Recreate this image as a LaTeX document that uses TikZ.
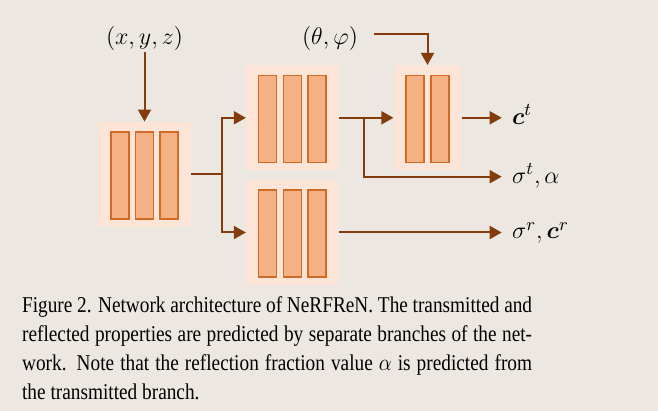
\documentclass[tikz,border=0pt]{standalone}
\usepackage{fontspec}
\usepackage{amsmath}
\usepackage{graphicx}
\newfontfamily\capfont{Liberation Serif}
\usetikzlibrary{calc}
\usetikzlibrary{arrows.meta}

\definecolor{PageBg}{HTML}{ECE8E1}
\definecolor{LayerBg}{HTML}{FCE4D6}
\definecolor{BarFill}{HTML}{F4B183}
\definecolor{BarLine}{HTML}{D26A26}
\definecolor{Brown}{HTML}{843C0C}

\tikzset{
  layerbg/.style={fill=LayerBg, draw=none, minimum height=52.5pt, inner sep=0},
  bar/.style={fill=BarFill, draw=BarLine, line width=0.75pt, minimum width=9pt, minimum height=43.5pt, inner sep=0},
  wire/.style={draw=Brown, line width=1pt},
  link/.style={wire, -{Triangle[length=6pt,width=6.5pt]}},
  lbl/.style={font=\fontsize{13}{15}\selectfont, inner xsep=5pt, inner ysep=2pt, text height=8pt, text depth=1.5pt},
}

% one block of layers: name, x, y, number of bars
\newcommand{\mlp}[4]{%
  \node[layerbg, minimum width={(24.7*#4+18)*0.5pt}] (#1) at (#2,#3) {};
  \foreach \i in {1,...,#4}
    \node[bar] (#1-\i) at ($(#1.center)+({(\i-(#4+1)/2)*24.7},1)$) {};
}

\begin{document}
\begin{tikzpicture}[x=0.5pt,y=-0.5pt]
\fill[PageBg] (0,0) rectangle (658,411);
\useasboundingbox (0,0) rectangle (658,411);

% blocks
\mlp{mlpA}{144.5}{174.5}{3}
\mlp{mlpB}{292.3}{117.8}{3}
\mlp{mlpC}{292.3}{232.5}{3}
\mlp{mlpD}{427.5}{117.8}{2}

% inputs
\node[lbl] (xyz) at (144.5,38.5) {$(x,y,z)$};
\node[lbl] (theta) at (330,38.5) {$(\theta,\varphi)$};

% outputs
\node[lbl, anchor=west] (ct) at (501.7,117.8) {$\boldsymbol{c}^t$};
\node[lbl, anchor=west] (sigt) at (501.7,176.7) {$\sigma^t,\alpha$};
\node[lbl, anchor=west] (sigr) at (501.7,232.5) {$\sigma^r,\boldsymbol{c}^r$};

\coordinate (split) at ($(mlpA.east)+(31.5,0)$);
\coordinate (fork) at ($(mlpB.east)+(25.5,0)$);

\draw[link] (xyz) -- (mlpA);
\draw[link, shorten <=3pt] ([yshift=2pt]theta.east) -| (mlpD.north);

\draw[wire] (mlpA.east) -- (split);
\draw[link] (split) |- (mlpB.west);
\draw[link] (split) |- (mlpC.west);

\draw[link] (mlpB.east) -- (mlpD.west);
\draw[link] (fork) |- (sigt.west);
\draw[link] (mlpD.east) -- (ct.west);
\draw[link] (mlpC.east) -- (sigr.west);

% caption
\node[anchor=base west, inner sep=0] (cap) at (21.7,312) {\scalebox{1}[1.17]{\parbox[t]{255pt}{\capfont\fontsize{9.65}{12.4}\selectfont
Figure 2. Network architecture of NeRFReN. The transmitted and\linebreak
reflected properties are predicted by separate branches of the net-\linebreak
work.  Note that the reflection fraction value $\alpha$ is predicted from\linebreak
the transmitted branch.}}};

\end{tikzpicture}
\end{document}
